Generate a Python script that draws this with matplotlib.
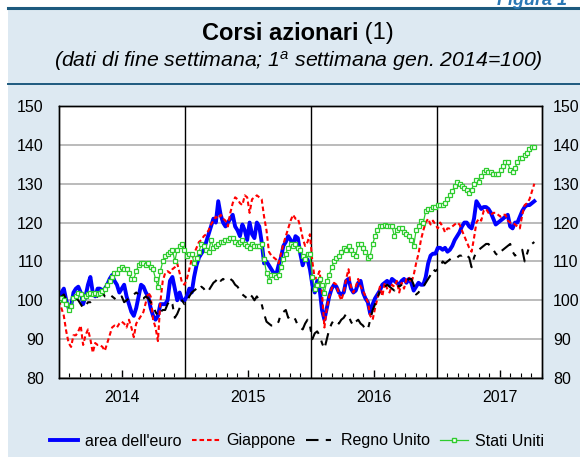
import numpy as np
import matplotlib
matplotlib.use('Agg')
import matplotlib.pyplot as plt
from matplotlib.lines import Line2D
from matplotlib.patches import Rectangle

plt.rcParams['font.family'] = ['Liberation Sans', 'DejaVu Sans']
plt.rcParams['mathtext.fontset'] = 'custom'
plt.rcParams['mathtext.rm'] = 'Liberation Sans'
plt.rcParams['mathtext.it'] = 'Liberation Sans:italic'

# dati settimanali, 1a settimana gen. 2014 = 100
euro = [100, 102, 103, 100, 98, 98.5, 102, 103, 103.5, 102, 99, 101, 104, 106, 102, 101, 103, 103, 102.5, 103,
        104, 105.5, 106.5, 105, 104, 102, 103, 104, 101, 99, 97, 96, 98, 101, 104, 103.5, 102, 101, 98, 96,
        95, 96, 99, 99, 99, 100, 105, 106, 103, 100, 102, 100,
        100, 101, 103, 102, 106, 109, 111, 112, 113, 115, 117, 119, 121, 120, 125.5, 122, 120, 119, 120, 121,
        122, 119, 118, 116.5, 119.5, 118, 115.5, 120, 117, 116, 120, 119, 115, 109.5, 110, 109, 108, 107, 106.5, 109,
        111, 114, 115, 116.5, 115.5, 114, 116.5, 116, 112, 109, 111, 110.5,
        108, 104, 102, 105, 103, 97.5, 95, 98, 101, 103, 104, 103.5, 102, 101.5, 102, 105, 105.5, 103, 102, 102.5,
        104.5, 105, 102, 100.5, 99.5, 96.5, 99, 100.5, 101.5, 102.5, 104, 104.5, 105, 104, 105.5, 105, 104.5, 104, 105, 105.5,
        104.5, 105.5, 104.5, 102.5, 103.5, 104.5, 104, 104, 106, 109.5, 111.5, 112,
        112, 113.5, 113.5, 113, 113.5, 112.5, 113, 114, 115.5, 116.5, 117.5, 119, 120, 120, 119, 118.5, 121, 125.5, 124.5, 123.5,
        124, 124, 123.5, 122.5, 121, 119.5, 120, 120.5, 121, 121.5, 122, 119, 118.5, 120, 120, 121.5, 123, 124, 124.5, 124.5,
        125, 125.5]
giappone = [100, 98, 96, 92, 89, 88, 91, 91, 92, 93.5, 88.5, 91, 92.5, 90, 86.5, 89, 88.5, 88.5, 88, 87,
            89, 91, 93, 93.5, 93, 94, 94.5, 94, 93, 95, 93, 90.5, 94, 95, 96, 97, 99.5, 102, 101, 95,
            93, 89.5, 99.5, 105, 107, 107.5, 107, 108, 108.5, 109.5, 107, 104.5,
            104, 105.5, 108, 110.5, 112, 113.5, 115, 115.5, 116.5, 117, 118, 119.5, 120.5, 121.5, 121, 122, 121, 120.5, 119, 122.5,
            125, 126.5, 126, 125, 124.5, 127, 126.5, 122.5, 126, 126.5, 127, 126.5, 126, 121.5, 118, 112.5, 111.5, 111, 110.5, 109.5,
            112, 114.5, 116.5, 118.5, 120.5, 122, 121, 121, 119, 116, 114, 115,
            117, 110, 105.5, 106, 107.5, 102, 93, 98, 101, 103, 104.5, 104, 101.5, 100, 102, 105.5, 108, 103.5, 102, 103.5,
            105.5, 103.5, 102.5, 101, 99.5, 96, 95, 98, 100.5, 103.5, 101, 104.5, 103, 102, 104, 103.5, 105, 102, 104.5, 103,
            105.5, 106, 104.5, 106.5, 109.5, 112, 115.5, 118, 120, 121, 119.5, 120.5,
            119.5, 118.5, 120, 119, 117.5, 118.5, 118.5, 119, 119.5, 120, 119.5, 118, 116.5, 115, 113.5, 112.5, 116, 120, 121, 120.5,
            123, 123.5, 122.5, 122, 122.5, 122.5, 122, 121.5, 122, 122, 120.5, 120, 120, 119.5, 119, 118.5, 122, 124.5, 125, 126,
            128, 130]
regno_unito = [100, 101, 101.5, 100, 98.5, 98, 99.5, 100.5, 100, 99, 98, 98.5, 99.5, 99.5, 100, 100.5, 101, 101.5, 102, 101,
               101, 101.5, 101, 100.5, 100, 100.5, 101, 99.5, 100, 100.5, 101, 101.5, 102, 101.5, 100.5, 100.5, 101, 100.5, 99.5, 98.5,
               97, 96, 97, 97.5, 97.5, 99, 100, 99, 95.5, 96.5, 98, 100,
               99, 99.5, 101, 102, 102.5, 103, 102.5, 103.5, 103, 102, 102.5, 103.5, 104.5, 105, 106, 105, 105.5, 105, 105, 105.5,
               105, 104, 103.5, 102.5, 101.5, 101, 100.5, 101.5, 101, 100, 101, 100, 99, 96.5, 94.5, 94, 93.5, 93.5, 93.5, 94.5,
               96.5, 97, 97.5, 95.5, 96, 96, 95, 93.5, 93, 92.5, 94, 95,
               93.5, 90, 91.5, 92, 91, 89, 87.5, 90, 92.5, 94, 95, 94.5, 94, 95, 95.5, 96.5, 96, 94.5, 93.5, 94.5,
               95, 94, 93.5, 92.5, 92.5, 95, 97.5, 99, 100.5, 102.5, 103, 103.5, 104, 103.5, 103, 102.5, 104, 103.5, 104, 104.5,
               105, 105.5, 105.5, 104, 101.5, 102, 103, 103.5, 104.5, 105.5, 106.5, 108,
               107.5, 108, 108.5, 110, 109.5, 110, 110.5, 111, 111, 111, 111.5, 111.5, 112, 111.5, 111, 108.5, 111, 112.5, 113, 113.5,
               114, 114.5, 114.5, 113.5, 113, 112, 111.5, 112.5, 113, 113.5, 114, 114.5, 112.5, 111.5, 112, 112.5, 113, 110, 112, 114,
               114.5, 115]
stati_uniti = [100, 100.5, 100, 99, 97.5, 98.5, 100.5, 101, 102, 101.5, 100.5, 101, 101.5, 102, 101.5, 102, 101.5, 102, 102.5, 103,
               104, 105, 106, 107, 107, 108, 108.5, 108, 108, 107, 105.5, 105.5, 107.5, 109, 109.5, 109.5, 109, 109.5, 108.5, 108,
               105.5, 103.5, 107.5, 110, 111.5, 112, 112.5, 113, 110, 113, 114, 114.5,
               113, 111.5, 112, 112, 109.5, 111, 112.5, 114.5, 114, 113, 112.5, 115.5, 113.5, 114, 114.5, 115, 115, 115.5, 115.5, 116,
               116, 115, 114.5, 115, 115.5, 114.5, 114, 113.5, 114.5, 114, 114, 114, 114.5, 110.5, 107, 105, 106.5, 106.5, 106, 106.5,
               108.5, 110.5, 112, 113.5, 114.5, 114, 114.5, 113.5, 113, 111.5, 110.5, 112,
               112, 106, 103, 104, 105.5, 104, 102, 105, 106.5, 108.5, 110, 111, 111.5, 112.5, 113.5, 113, 114, 113, 112, 111.5,
               114.5, 114.5, 113.5, 112.5, 111, 111.5, 114.5, 116.5, 118, 119, 119, 119.5, 119, 119, 119, 116.5, 118, 118.5, 118.5, 117.5,
               117, 116.5, 115.5, 114, 118, 119, 120.5, 120, 123, 123.5, 123.5, 124,
               124, 124.5, 124.5, 124.5, 125, 126, 127, 128, 129.5, 130.5, 130, 129.5, 129, 128.5, 127.5, 128.5, 130, 131, 130.5, 132,
               133, 133.5, 133, 133, 132.5, 132.5, 132.5, 133.5, 134.5, 135.5, 135.5, 133.5, 133, 134, 135.5, 136.5, 136.5, 137.5, 138, 139,
               139.5, 139.5]
anni = ['2014', '2015', '2016', '2017']
serie_nomi = ["area dell'euro", 'Giappone', 'Regno Unito', 'Stati Uniti']

W, H = 580, 457
fig = plt.figure(figsize=(W / 100, H / 100), dpi=100)
fig.patch.set_facecolor('white')

# sfondo azzurro del riquadro
fig.add_artist(Rectangle((8 / W, 0), 1 - 8 / W, 1 - 8 / H, transform=fig.transFigure,
                         facecolor='#dde9f2', edgecolor='none', zorder=0))
fig.add_artist(Line2D([8 / W, 1], [1 - 8 / H, 1 - 8 / H], transform=fig.transFigure,
                      color='#1d5a7e', lw=2.2))
fig.add_artist(Line2D([8 / W, 1], [1 - 84 / H, 1 - 84 / H], transform=fig.transFigure,
                      color='#1d5a7e', lw=1.4))
fig.text(497 / W, 1 - 5 / H, 'Figura 1', ha='left', va='baseline', fontsize=13,
         weight='bold', style='italic', color='#2a78b5')

# titolo: parte in grassetto + (1)
t1 = fig.text(0, 1 - 33 / H, 'Corsi azionari', fontsize=17, weight='bold', va='center', ha='left')
t2 = fig.text(0, 1 - 33 / H, ' (1)', fontsize=17, va='center', ha='left')
fig.canvas.draw()
r = fig.canvas.get_renderer()
w1 = t1.get_window_extent(r).width
w2 = t2.get_window_extent(r).width
x0 = 298 - (w1 + w2) / 2
t1.set_x(x0 / W)
t2.set_x((x0 + w1) / W)
fig.text(298 / W, 1 - 61 / H, r'(dati di fine settimana; 1$^{a}$ settimana gen. 2014=100)',
         fontsize=15.3, style='italic', ha='center', va='center')

ax = fig.add_axes([59 / W, 1 - 378 / H, 483 / W, 272 / H])
ax.set_facecolor('white')

settimane = np.arange(len(euro))
x = 2014 + settimane / 52.18

ax.plot(x, euro, color='#0000ff', lw=2.8, solid_joinstyle='round', zorder=3)
ax.plot(x, giappone, color='#ff0000', lw=1.5, dashes=(2.2, 1.4), zorder=4)
ax.plot(x, regno_unito, color='black', lw=1.5, dashes=(6, 3.5, 2.5, 3.5), zorder=4)
ax.plot(x, stati_uniti, color='#2ecc2e', lw=0.9, marker='s', ms=3.4, mfc='white',
        mec='#2ecc2e', mew=0.9, zorder=5)

ax.set_ylim(80, 150)
ax.set_xlim(2014, 2014 + 483 / 125.9)
ax.set_yticks(np.arange(80, 151, 10))
ax.grid(axis='y', color='#a8a8a8', lw=1.1)
ax.set_axisbelow(True)
for a in (2015, 2016, 2017):
    ax.axvline(a, color='black', lw=1, zorder=2)

ax.set_xticks([2014.5 + i for i in range(len(anni))], anni)
ax.set_xticks([2014 + i / 12 for i in range(1, 47) if i % 12 not in (0, 6)], minor=True)
ax.tick_params(axis='x', which='major', direction='in', length=6, width=1, pad=9, labelsize=11.5)
ax.tick_params(axis='x', which='minor', direction='in', length=3.5, width=0.8)
ax.tick_params(axis='y', length=0, pad=11, labelsize=11.5)
ax.tick_params(top=False)

ax2 = ax.twinx()
ax2.set_ylim(80, 150)
ax2.set_yticks(np.arange(80, 151, 10))
ax2.tick_params(axis='y', length=0, pad=8, labelsize=11.5)

for a_ in (ax, ax2):
    for s in a_.spines.values():
        s.set_color('black')
        s.set_linewidth(1)

handles = [
    Line2D([], [], color='#0000ff', lw=2.8),
    Line2D([], [], color='#ff0000', lw=1.5, dashes=(2.2, 1.4)),
    Line2D([], [], color='black', lw=1.5, dashes=(6, 3.5, 2.5, 3.5)),
    Line2D([], [], color='#2ecc2e', lw=0.9, marker='s', ms=3.4, mfc='white', mec='#2ecc2e'),
]
fig.legend(handles, serie_nomi, loc='center', bbox_to_anchor=(297 / W, 1 - 441 / H), ncol=4,
           frameon=False, fontsize=11.5, handlelength=1.75, columnspacing=0.63, handletextpad=0.44,
           borderaxespad=0)

fig.savefig('out.png', dpi=100, facecolor=fig.get_facecolor())
